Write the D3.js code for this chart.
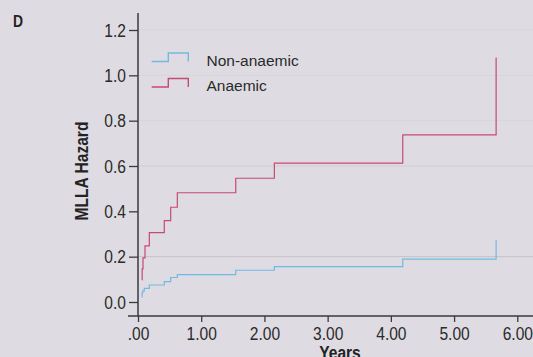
<!DOCTYPE html>
<html>
<head>
<meta charset="utf-8">
<script src="https://cdn.jsdelivr.net/npm/d3@7"></script>
<style>
  body { margin: 0; background: #dedce2; }
  svg { display: block; }
  .tick text { font-family: "Liberation Sans", Arial, sans-serif; }
</style>
</head>
<body>
<div id="chart"></div>
<script>
// step data: time in years, cumulative hazard
const anaemicTime   = [0.063, 0.066, 0.079, 0.111, 0.179, 0.416, 0.517, 0.622, 1.546, 2.157, 4.188, 5.665, 5.665];
const anaemicHazard = [0.097, 0.146, 0.195, 0.248, 0.306, 0.359, 0.418, 0.482, 0.546, 0.613, 0.737, 0.80, 1.079];
const nonTime   = [0.058, 0.065, 0.075, 0.100, 0.179, 0.416, 0.517, 0.622, 1.546, 2.157, 4.188, 5.665];
const nonHazard = [0.023, 0.040, 0.049, 0.060, 0.075, 0.090, 0.108, 0.121, 0.140, 0.156, 0.189, 0.274];

const seriesNames = ["Non-anaemic", "Anaemic"];
const seriesColors = ["#72b9e2", "#c74a72"];
const yTicks = [0, 0.2, 0.4, 0.6, 0.8, 1.0, 1.2];
const xTicks = [0, 1, 2, 3, 4, 5, 6];
const gridValues = [0.2, 0.6, 0.8, 1.0, 1.2];

const width = 533, height = 357;
const narrow = 0.82; // squeeze text horizontally, the original uses a condensed face
const svg = d3.select("#chart").append("svg")
              .attr("width", width)
              .attr("height", height);

const x = d3.scaleLinear().domain([0, 6]).range([138, 517.3]);
const y = d3.scaleLinear().domain([0, 1.2]).range([302, 30]);

// faint gridlines
svg.append("g")
   .selectAll("line")
   .data(gridValues)
   .join("line")
     .attr("x1", x(0))
     .attr("x2", width)
     .attr("y1", d => y(d))
     .attr("y2", d => y(d))
     .attr("stroke", d => d == 0.2 ? "#c4c2c6" : (d == 0.6 ? "#cfcdd3" : "#d7d5db"))
     .attr("stroke-width", 1);

// axes
const yAxis = svg.append("g")
   .attr("transform", `translate(${x(0)},0)`)
   .call(d3.axisLeft(y).tickValues(yTicks).tickSize(9).tickPadding(3)
           .tickFormat(d3.format(".1f")));
yAxis.select(".domain").remove();
yAxis.selectAll(".tick text")
     .attr("x", -12 / narrow)
     .attr("transform", `scale(${narrow},1)`);

const xAxis = svg.append("g")
   .attr("transform", "translate(0,316)")
   .call(d3.axisBottom(x).tickValues(xTicks).tickSize(6).tickPadding(5)
           .tickFormat(d => d == 0 ? ".00" : d3.format(".2f")(d)));
xAxis.select(".domain").remove();
xAxis.selectAll(".tick text")
     .attr("transform", `scale(${narrow},1)`);

svg.selectAll(".tick line").attr("stroke", "#3a3a3a").attr("stroke-width", 1.3);
svg.selectAll(".tick text").attr("fill", "#2a2a2a").style("font-size", "19px");

// axis lines
svg.append("line")
   .attr("x1", x(0)).attr("x2", x(0)).attr("y1", 13).attr("y2", 316)
   .attr("stroke", "#3a3a3a").attr("stroke-width", 1.5);
svg.append("line")
   .attr("x1", 128).attr("x2", width).attr("y1", 316).attr("y2", 316)
   .attr("stroke", "#3a3a3a").attr("stroke-width", 1.5);

// step lines
const line = d3.line()
               .x(d => x(d[0]))
               .y(d => y(d[1]))
               .curve(d3.curveStepAfter);

const nonData = nonTime.map((t, i) => [t, nonHazard[i]]);
const anaemicData = anaemicTime.map((t, i) => [t, anaemicHazard[i]]);

svg.append("path")
   .datum(nonData)
   .attr("d", line)
   .attr("fill", "none")
   .attr("stroke", seriesColors[0])
   .attr("stroke-width", 1.2);

svg.append("path")
   .datum(anaemicData)
   .attr("d", line)
   .attr("fill", "none")
   .attr("stroke", seriesColors[1])
   .attr("stroke-width", 1.2);

// legend
const legend = svg.append("g");
seriesNames.forEach((name, i) => {
  const ly = 61.5 + i * 25.5;
  legend.append("path")
        .attr("d", `M151.7,${ly}H168.3V${ly - 8.5}H188.3V${ly}`)
        .attr("fill", "none")
        .attr("stroke", seriesColors[i])
        .attr("stroke-width", 1.4);
  legend.append("text")
        .attr("x", 206.5)
        .attr("y", ly + 4)
        .attr("fill", "#2a2a2a")
        .style("font-family", "'Liberation Sans', Arial, sans-serif")
        .style("font-size", "15.5px")
        .text(name);
});

// titles
const boldFont = "'Liberation Sans', Arial, sans-serif";
svg.append("text")
   .attr("transform", `translate(13,27) scale(${narrow},1)`)
   .style("font-family", boldFont)
   .style("font-weight", "bold")
   .style("font-size", "17px")
   .attr("fill", "#222")
   .text("D");

svg.append("text")
   .attr("transform", `translate(88,171) rotate(-90) scale(${narrow},1)`)
   .attr("text-anchor", "middle")
   .style("font-family", boldFont)
   .style("font-weight", "bold")
   .style("font-size", "19px")
   .attr("fill", "#222")
   .text("MLLA Hazard");

svg.append("text")
   .attr("transform", `translate(340,359) scale(${narrow},1)`)
   .attr("text-anchor", "middle")
   .style("font-family", boldFont)
   .style("font-weight", "bold")
   .style("font-size", "19px")
   .attr("fill", "#222")
   .text("Years");
</script>
</body>
</html>
